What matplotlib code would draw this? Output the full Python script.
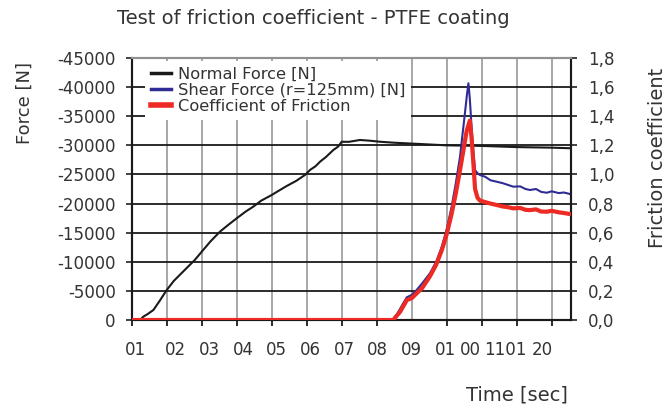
import matplotlib
matplotlib.use("Agg")
import matplotlib.pyplot as plt
from matplotlib.ticker import FixedLocator

plt.rcParams['font.family'] = ['DejaVu Sans']

# ---- data ----
time_normal = [0, 0.24, 0.33, 0.45, 0.62, 0.8, 1.0, 1.2, 1.57, 1.8, 2.0, 2.25, 2.52, 2.75,
               3.0, 3.25, 3.47, 3.7, 4.0, 4.2, 4.43, 4.7, 4.95, 5.1, 5.25, 5.38, 5.55, 5.76,
               5.9, 6.0, 6.2, 6.52, 6.8, 7.09, 7.5, 8.0, 8.5, 9.0, 9.5, 10.0, 10.5, 11.0,
               11.5, 12.0, 12.55]
normal_force = [0, 0, -570, -1000, -1720, -3300, -5150, -6700, -8930, -10300, -11730, -13500,
                -15170, -16300, -17470, -18600, -19460, -20500, -21470, -22200, -23020, -23900,
                -24910, -25800, -26400, -27190, -28000, -29200, -29800, -30620, -30600, -30920,
                -30800, -30620, -30450, -30300, -30150, -30000, -29950, -29900, -29800, -29700,
                -29650, -29600, -29500]

time_shear = [0, 7.47, 7.6, 7.75, 7.86, 8.0, 8.14, 8.3, 8.52, 8.7, 8.86, 9.0, 9.14, 9.26, 9.38,
              9.45, 9.52, 9.58, 9.62, 9.66, 9.71, 9.76, 9.81, 9.88, 9.95, 10.1, 10.25, 10.43,
              10.6, 10.75, 10.9, 11.1, 11.25, 11.38, 11.55, 11.7, 11.86, 12.0, 12.2, 12.35, 12.52]
shear_force = [0, 0, -1200, -2800, -3900, -4300, -5150, -6300, -8020, -10000, -12590, -15600,
               -19460, -23500, -28050, -31800, -35500, -38800, -40660, -38000, -33200, -29000,
               -25760, -25200, -24900, -24600, -24000, -23750, -23500, -23200, -22900, -22950,
               -22500, -22330, -22500, -22000, -21860, -22100, -21800, -21900, -21640]

time_fric = [0, 7.47, 7.67, 7.86, 8.0, 8.14, 8.3, 8.52, 8.7, 8.86, 9.0, 9.14, 9.26, 9.38, 9.48,
             9.57, 9.66, 9.71, 9.76, 9.81, 9.88, 9.95, 10.1, 10.25, 10.43, 10.6, 10.75, 10.9,
             11.1, 11.25, 11.38, 11.55, 11.7, 11.86, 12.0, 12.2, 12.35, 12.52]
friction = [0, 0, 0.057, 0.137, 0.15, 0.183, 0.22, 0.30, 0.38, 0.48, 0.59, 0.73, 0.87, 1.03,
            1.17, 1.30, 1.37, 1.25, 1.08, 0.90, 0.84, 0.82, 0.81, 0.80, 0.79, 0.78, 0.775,
            0.767, 0.77, 0.757, 0.755, 0.76, 0.745, 0.744, 0.75, 0.74, 0.735, 0.728]

x_label_pos = [0.12, 1.25, 2.21, 3.19, 4.13, 5.10, 6.07, 7.02, 8.0, 8.96, 9.69, 10.68, 11.72]
x_labels = ["01", "02", "03", "04", "05", "06", "07", "08", "09", "01", "00", "1101", "20"]
x_grid = list(range(0, 13))
force_ticks = list(range(0, -45001, -5000))
coef_ticks = [0.0, 0.2, 0.4, 0.6, 0.8, 1.0, 1.2, 1.4, 1.6, 1.8]

# ---- figure ----
fig = plt.figure(figsize=(6.7, 4.12), dpi=100)
ax = fig.add_axes([0.1966, 0.2233, 0.6556, 0.6359])
ax2 = ax.twinx()

ax.set_xlim(0, 12.55)
ax.set_ylim(0, -45000)
ax2.set_ylim(0, 1.8)

ax.set_yticks(force_ticks)
ax.set_yticklabels([str(v) for v in force_ticks])
ax2.set_yticks(coef_ticks)
ax2.set_yticklabels([f"{v:.1f}".replace('.', ',') for v in coef_ticks])

ax.xaxis.set_major_locator(FixedLocator(x_label_pos))
ax.set_xticklabels(x_labels)
ax.xaxis.set_minor_locator(FixedLocator(x_grid))

# grid
for g in x_grid[1:]:
    ax.axvline(g, color='#a0a0a0', lw=1.3, zorder=0.5)
for t in force_ticks[1:-1]:
    ax.axhline(t, color='#1a1a1a', lw=1.3, zorder=0.6)

l1, = ax.plot(time_normal, normal_force, color='#1a1a1a', lw=1.5, zorder=3, label='Normal Force [N]')
l2, = ax.plot(time_shear, shear_force, color='#2f2c95', lw=1.5, zorder=3, label='Shear Force (r=125mm) [N]')
l3, = ax2.plot(time_fric, friction, color='#ee2a24', lw=3.0, zorder=3, label='Coefficient of Friction')

# spines/ticks
for a in (ax, ax2):
    a.spines['top'].set_color('#909090')
    a.spines['top'].set_linewidth(1.5)
    for s in ('bottom', 'left', 'right'):
        a.spines[s].set_color('#1a1a1a')
        a.spines[s].set_linewidth(1.5)

ax.tick_params(axis='y', direction='inout', length=9, width=1.3, pad=7, labelsize=12, colors='#333333')
ax2.tick_params(axis='y', direction='inout', length=9, width=1.3, pad=8, labelsize=12, colors='#333333')
ax.tick_params(axis='x', which='major', length=0, pad=15, labelsize=12, colors='#333333')
ax.tick_params(axis='x', which='minor', direction='out', length=4, width=1.3, color='#1a1a1a')

leg = ax2.legend(handles=[l1, l2, l3], loc='upper left', bbox_to_anchor=(0.03, 0.99),
                 frameon=True, fancybox=False, edgecolor='white', facecolor='white', framealpha=1,
                 fontsize=11.7, handlelength=1.25, handletextpad=0.45, labelspacing=0.08,
                 borderpad=0.35, borderaxespad=0)
leg.get_frame().set_linewidth(0)
for txt in leg.get_texts():
    txt.set_color('#333333')
for ln in leg.get_lines():
    ln.set_linewidth(2.5 if ln.get_color() != '#ee2a24' else 4)

fig.text(0.468, 0.955, "Test of friction coefficient - PTFE coating", ha='center', va='center',
         fontsize=14, color='#333333')
fig.text(0.037, 0.75, "Force [N]", rotation=90, ha='center', va='center', fontsize=13, color='#333333')
fig.text(0.982, 0.617, "Friction coefficient", rotation=90, ha='center', va='center', fontsize=14,
         color='#333333')
fig.text(0.771, 0.041, "Time [sec]", ha='center', va='center', fontsize=14, color='#333333')

fig.savefig("out.png", dpi=100)
